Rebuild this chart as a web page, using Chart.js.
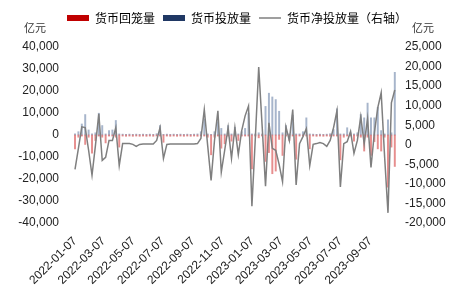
<!DOCTYPE html>
<html>
<head>
<meta charset="utf-8">
<script src="https://cdn.jsdelivr.net/npm/chart.js@4.4.1/dist/chart.umd.min.js"></script>
<style>
  body { margin: 0; background: #fff; }
  #box { width: 474px; height: 293px; }
</style>
</head>
<body>
<div id="box"><canvas id="c"></canvas></div>
<script>
// weekly data, first week 2022-01-07
var startDate = '2022-01-07'

// 货币回笼量 (亿元, left axis)
var huilong = [-6300, -1000, -500, -4300, -1000, -8300, -2500, -500, -1000, -3600,
	-500, -500, -1000, -5500, -500, -600, -500, -600, -500, -600,
	-500, -600, -500, -600, -500, -500, -3300, -500, -600, -500,
	-600, -500, -600, -500, -600, -500, -600, -500, -500, -1000,
	-9000, -1000, -500, -6000, -4000, -500, -2800, -500, -2500, -500,
	-500, -500, -15400, -500, -1300, -500, -12000, -8000, -17600, -16400,
	-2000, -9300, -500, -2500, -500, -11000, -500, -500, -500, -6300,
	-500, -600, -500, -600, -500, -600, -500, -500, -11300, -1000,
	-500, -500, -2800, -500, -1000, -7300, -1000, -9300, -3000, -6300,
	-7300, -1000, -23700, -5500, -14300]

// 货币投放量 (亿元, left axis)
var toufang = [500, 1500, 5000, 9300, 2300, 500, 1000, 9900, 4300, 500,
	2000, 2300, 6600, 500, 400, 300, 400, 300, 400, 300,
	400, 300, 400, 300, 600, 4300, 300, 400, 300, 400,
	300, 400, 300, 400, 300, 400, 500, 1500, 7300, 500,
	300, 1500, 6000, 3000, 500, 4300, 500, 3500, 500, 1500,
	3000, 10000, 500, 500, 1000, 500, 13000, 19000, 17300, 16100,
	10800, 1000, 4300, 500, 9000, 500, 500, 1500, 7800, 500,
	400, 300, 400, 300, 400, 600, 2500, 11900, 500, 500,
	3300, 1000, 500, 1000, 9300, 7800, 14500, 7800, 7800, 12600,
	2000, 500, 6900, 1000, 28500]

// 货币净投放量 (亿元, right axis)
var jingtoufang = [-6300, -900, 4600, 4400, -1400, -7800, -200, 7900, -4000, -3200,
	1100, 1100, 4400, -5300, 300, 300, 300, 100, -400, 100,
	200, 200, 200, 200, 1100, 4400, -3500, 100, 200, 200,
	200, 200, 200, 200, 200, 200, 300, 1600, 9000, -200,
	-9100, 1100, 8700, -7000, -1400, 4400, -3500, 4400, -2500, 3600,
	7400, 9900, -15700, 1600, 19900, 4900, -10600, 5600, -900, -1400,
	-5000, -9400, 4600, 1100, 9000, -10300, 300, 2100, 4100, -5300,
	100, 300, 600, 300, -400, 1100, 4400, 8700, -10800, 300,
	800, 3400, -2200, 1100, 7200, 300, 6700, -5800, 3100, 9500,
	13300, -3000, -17400, 10700, 14000]

var tickLabels = ['2022-01-07', '2022-03-07', '2022-05-07', '2022-07-07', '2022-09-07', '2022-11-07',
	'2023-01-07', '2023-03-07', '2023-05-07', '2023-07-07', '2023-09-07']

var DAY = 86400000
var t0 = Date.parse(startDate)
function dayOf(s) { return (Date.parse(s) - t0) / DAY }
function fmtDay(d) { return new Date(t0 + d * DAY).toISOString().slice(0, 10) }
function pts(arr) { return arr.map(function (v, i) { return { x: i * 7, y: v } }) }

var tickDays = tickLabels.map(dayOf)

// "亿元" above both axes + extra gap under the legend
var unitLabels = {
	id: 'unitLabels',
	beforeUpdate: function (chart) {
		var lg = chart.legend
		if (lg && !lg._patched) {
			var fit = lg.fit
			lg.fit = function () { fit.call(this); this.height += 13 }
			lg._patched = true
		}
	},
	afterDraw: function (chart) {
		var ctx = chart.ctx
		ctx.save()
		ctx.font = '11px "Noto Sans CJK SC"'
		ctx.fillStyle = '#333'
		ctx.textAlign = 'center'
		ctx.textBaseline = 'middle'
		ctx.fillText('亿元', 35, 28)
		ctx.fillText('亿元', 423, 28)
		ctx.restore()
	}
}

var numFmt = function (v) { return v.toLocaleString('en-US') }

var ctx = document.getElementById('c').getContext('2d')
var myChart = new Chart(ctx, {
	type: 'bar',
	data: {
		datasets: [
			{
				label: '货币回笼量',
				data: pts(huilong),
				backgroundColor: 'rgba(210,50,50,0.55)',
				barThickness: 1.3,
				grouped: false,
				yAxisID: 'y',
				order: 2
			},
			{
				label: '货币投放量',
				data: pts(toufang),
				backgroundColor: 'rgba(60,90,140,0.45)',
				barThickness: 1.3,
				grouped: false,
				yAxisID: 'y',
				order: 2
			},
			{
				type: 'line',
				label: '货币净投放量（右轴）',
				data: pts(jingtoufang),
				borderColor: '#7f7f7f',
				borderWidth: 1.5,
				pointRadius: 0,
				tension: 0,
				yAxisID: 'y1',
				order: 1
			}
		]
	},
	plugins: [unitLabels],
	options: {
		responsive: true,
		maintainAspectRatio: false,
		animation: false,
		layout: { padding: { top: 4, left: 0, right: 0, bottom: 0 } },
		plugins: {
			tooltip: { enabled: false },
			legend: {
				position: 'top',
				labels: {
					usePointStyle: true,
					pointStyleWidth: 22,
					boxHeight: 6,
					padding: 8,
					color: '#333',
					font: { family: '"Noto Sans CJK SC"', size: 12 },
					generateLabels: function () {
						return [
							{ text: '货币回笼量', fillStyle: '#c00000', strokeStyle: '#c00000', lineWidth: 0, pointStyle: 'rect', datasetIndex: 0, hidden: false },
							{ text: '货币投放量', fillStyle: '#203864', strokeStyle: '#203864', lineWidth: 0, pointStyle: 'rect', datasetIndex: 1, hidden: false },
							{ text: '货币净投放量（右轴）', fillStyle: '#7f7f7f', strokeStyle: '#7f7f7f', lineWidth: 1.5, pointStyle: 'line', datasetIndex: 2, hidden: false }
						]
					}
				}
			}
		},
		scales: {
			x: {
				type: 'linear',
				offset: false,
				min: -10.3,
				max: 668.7,
				grid: { display: false, drawTicks: false },
				border: { display: false },
				afterBuildTicks: function (scale) {
					scale.ticks = tickDays.map(function (d) { return { value: d } })
				},
				afterFit: function (scale) { scale.height = 70 },
				ticks: {
					autoSkip: false,
					minRotation: 45,
					maxRotation: 45,
					padding: 11,
					color: '#222',
					font: { family: '"Liberation Sans", Arial', size: 12 },
					callback: function (v) { return fmtDay(v) }
				}
			},
			y: {
				position: 'left',
				min: -40000,
				max: 40000,
				grid: { display: false, drawTicks: false },
				border: { display: false },
				afterFit: function (scale) { scale.width = 70 },
				ticks: {
					stepSize: 10000,
					padding: 11,
					color: '#222',
					font: { family: '"Liberation Sans", Arial', size: 12 },
					callback: numFmt
				}
			},
			y1: {
				position: 'right',
				min: -20000,
				max: 25000,
				grid: { display: false, drawTicks: false },
				border: { display: false },
				afterFit: function (scale) { scale.width = 74 },
				ticks: {
					stepSize: 5000,
					padding: 5,
					color: '#222',
					font: { family: '"Liberation Sans", Arial', size: 12 },
					callback: numFmt
				}
			}
		}
	}
})
</script>
</body>
</html>
